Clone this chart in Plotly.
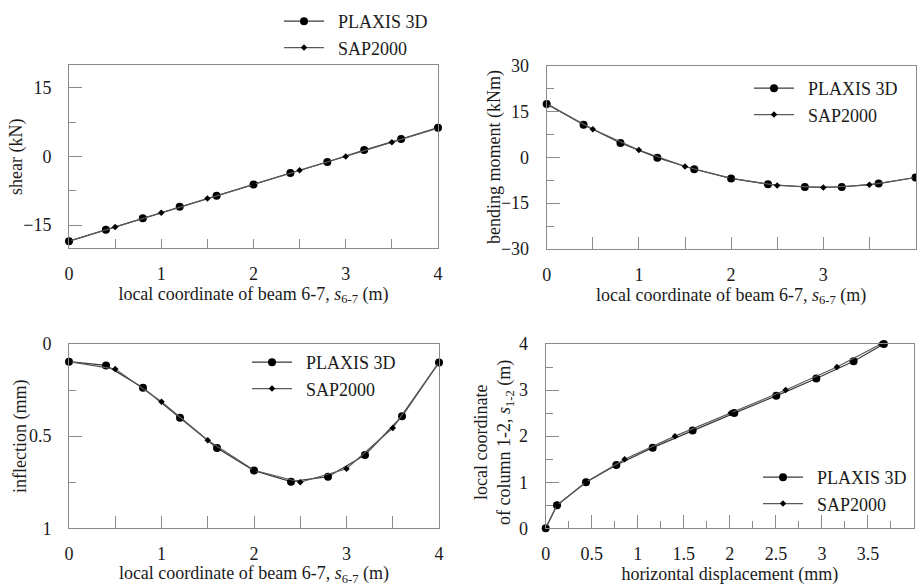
import plotly.graph_objects as go

# ---------------- data ----------------
s_plaxis = [0, 0.4, 0.8, 1.2, 1.6, 2.0, 2.4, 2.8, 3.2, 3.6, 4.0]
s_sap = [0, 0.5, 1.0, 1.5, 2.0, 2.5, 3.0, 3.5, 4.0]

shear_plaxis = [-18.5, -16.0, -13.5, -11.0, -8.6, -6.1, -3.6, -1.2, 1.4, 3.8, 6.3]
shear_sap = [-18.5, -15.4, -12.3, -9.2, -6.1, -3.0, 0.0, 3.1, 6.2]

moment_plaxis = [17.5, 10.7, 4.7, -0.1, -3.9, -6.9, -8.8, -9.7, -9.7, -8.6, -6.6]
moment_sap = [17.5, 9.2, 2.4, -3.0, -6.9, -9.2, -9.9, -9.0, -6.6]

infl_plaxis = [0.096, 0.116, 0.237, 0.40, 0.564, 0.687, 0.747, 0.72, 0.602, 0.392, 0.10]
infl_sap = [0.096, 0.136, 0.313, 0.522, 0.685, 0.75, 0.677, 0.456, 0.10]

col_s_plaxis = [0, 0.5, 1.0, 1.375, 1.75, 2.125, 2.5, 2.875, 3.25, 3.625, 4.0]
disp_plaxis = [0, 0.123, 0.438, 0.767, 1.162, 1.596, 2.048, 2.504, 2.939, 3.344, 3.673]
col_s_sap = [0, 0.5, 1.0, 1.5, 2.0, 2.5, 3.0, 3.5, 4.0]
disp_sap = [0, 0.12, 0.435, 0.858, 1.404, 2.009, 2.606, 3.163, 3.641]

names = ["PLAXIS 3D", "SAP2000"]

FONT = "Liberation Serif, Times New Roman, serif"
AX = "#8a8a8a"
TXT = "#1a1a1a"
W, H = 917, 586

def px_x(a, b):
    return [a / W, b / W]

def px_y(top, bottom):
    return [1 - bottom / H, 1 - top / H]

fig = go.Figure()

panels = [
    (s_plaxis, shear_plaxis, s_sap, shear_sap, "", "legend"),
    (s_plaxis, moment_plaxis, s_sap, moment_sap, "2", "legend2"),
    (s_plaxis, infl_plaxis, s_sap, infl_sap, "3", "legend3"),
    (disp_plaxis, col_s_plaxis, disp_sap, col_s_sap, "4", "legend4"),
]

GAP = "\u2002"
for xp, yp, xs, ys, suf, leg in panels:
    fig.add_trace(go.Scatter(
        x=xp, y=yp, name=GAP + names[0], mode="lines+markers",
        line=dict(color="#3a3a3a", width=1.2),
        marker=dict(symbol="circle", size=8, color="black"),
        xaxis="x" + suf, yaxis="y" + suf, legend=leg, cliponaxis=False,
        legendgroup="a" + suf))
    fig.add_trace(go.Scatter(
        x=xs, y=ys, name=GAP + names[1], mode="lines+markers",
        line=dict(color="#5a5a5a", width=1.2),
        marker=dict(symbol="diamond", size=5, color="black"),
        xaxis="x" + suf, yaxis="y" + suf, legend=leg, cliponaxis=False,
        legendgroup="b" + suf))

tickfont = dict(family=FONT, size=18, color=TXT)
titlefont = dict(family=FONT, size=18, color=TXT)

def xax(domain, anchor, rng, dtick, mdtick, ticklen, mticklen, title, standoff=4):
    return dict(domain=domain, anchor=anchor, range=rng, dtick=dtick, tick0=0,
                showline=True, mirror=True, linecolor=AX, linewidth=1,
                ticks="inside", ticklen=ticklen, tickcolor=AX, tickwidth=1,
                minor=dict(dtick=mdtick, tick0=0, ticks="inside", ticklen=mticklen,
                           tickcolor=AX, tickwidth=1),
                showgrid=False, zeroline=False, tickfont=tickfont,
                ticklabelstandoff=9, automargin=False,
                title=dict(text=title, font=titlefont, standoff=standoff))

def yax(domain, anchor, rng, dtick, mdtick):
    return dict(domain=domain, anchor=anchor, range=rng, dtick=dtick, tick0=0,
                showline=True, mirror=True, linecolor=AX, linewidth=1,
                ticks="inside", ticklen=13, tickcolor=AX, tickwidth=1,
                minor=dict(dtick=mdtick, tick0=0, ticks="inside", ticklen=7,
                           tickcolor=AX, tickwidth=1),
                showgrid=False, zeroline=False, tickfont=tickfont,
                ticklabelstandoff=13, automargin=False)

beam_title = "local coordinate of beam 6-7, <i>s</i><sub>6-7</sub> (m)"

legend_common = dict(font=dict(family=FONT, size=18, color=TXT),
                     bgcolor="rgba(0,0,0,0)", xanchor="left", yanchor="top",
                     tracegroupgap=0, itemwidth=40)

# y-axis titles as rotated annotations: (text, x_px, y_px)
ytitles = [
    ("shear (kN)", 16, 157),
    ("bending moment (kNm)", 494, 157),
    ("inflection (mm)", 20, 437),
    ("local coordinate<br>of column 1-2, <i>s</i><sub>1-2</sub> (m)", 494, 442),
]
annotations = [
    dict(text=t, x=xp / W, y=1 - yp / H, xref="paper", yref="paper",
         xanchor="center", yanchor="middle", textangle=-90, showarrow=False,
         font=titlefont)
    for t, xp, yp in ytitles
]

fig.update_layout(
    width=W, height=H, margin=dict(l=0, r=0, t=0, b=0, autoexpand=False),
    paper_bgcolor="white", plot_bgcolor="white",
    font=dict(family=FONT, size=18, color=TXT),
    xaxis=xax(px_x(69, 438), "y", [0, 4], 1, 0.5, 9, 9, beam_title),
    yaxis=yax(px_y(65, 248), "x", [-20, 20], 15, 7.5),
    xaxis2=xax(px_x(546.7, 915.5), "y2", [0, 4], 1, 0.5, 12, 12, beam_title),
    yaxis2=yax(px_y(65.7, 249), "x2", [-30, 30], 15, 7.5),
    xaxis3=xax(px_x(69, 439), "y3", [0, 4], 1, 0.5, 12, 12, beam_title),
    yaxis3=yax(px_y(344, 528.3), "x3", [1, 0], 0.5, 0.25),
    xaxis4=xax(px_x(545.7, 914), "y4", [0, 4], 0.5, 0.25, 13, 7, "horizontal displacement (mm)"),
    yaxis4=yax(px_y(344, 528.3), "x4", [0, 4], 1, 0.5),
    legend=dict(x=279 / W, y=1 - 3 / H, **legend_common),
    legend2=dict(x=749 / W, y=1 - 70 / H, **legend_common),
    legend3=dict(x=247 / W, y=1 - 344 / H, **legend_common),
    legend4=dict(x=758 / W, y=1 - 459 / H, **legend_common),
    annotations=annotations,
    showlegend=True,
)

fig.update_yaxes(selector=dict(anchor="x3"), tickvals=[0, 0.5, 1], ticktext=["0", "0.5", "1"])

fig.write_html(
    "out.html",
    config={"displayModeBar": False},
    post_script="document.body.style.margin='0';document.body.style.overflow='hidden';",
)
